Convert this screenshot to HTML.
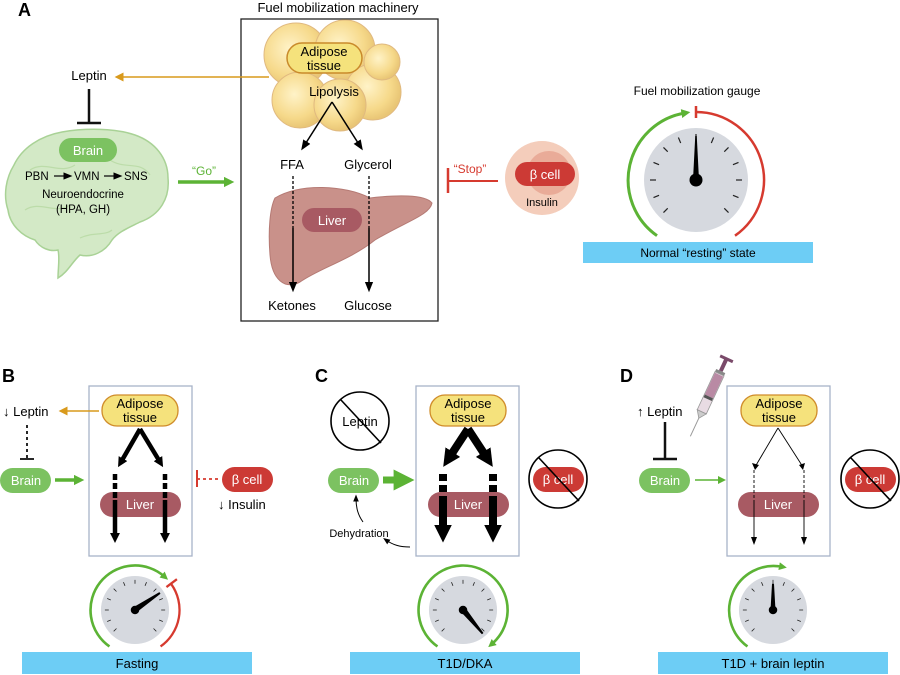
<!DOCTYPE html>
<html><head><meta charset="utf-8"><style>
html,body{margin:0;padding:0;background:#fff}
svg{display:block;font-family:"Liberation Sans",sans-serif}
</style></head><body>
<svg width="900" height="675" viewBox="0 0 900 675" xmlns="http://www.w3.org/2000/svg">
<defs>
<marker id="ahs" viewBox="0 0 10 10" refX="5" refY="5" markerWidth="7" markerHeight="7" orient="auto"><path d="M0,1 L10,5 L0,9 Z" fill="#000"/></marker>
<marker id="ahb" viewBox="0 0 10 10" refX="4" refY="5" markerWidth="2.2" markerHeight="2.2" orient="auto"><path d="M0,0 L10,5 L0,10 Z" fill="#000"/></marker>
<marker id="ahg" viewBox="0 0 10 10" refX="4" refY="5" markerWidth="3" markerHeight="3" orient="auto"><path d="M0,0 L10,5 L0,10 Z" fill="#5cb335"/></marker>
<marker id="aho" viewBox="0 0 10 10" refX="4" refY="5" markerWidth="6" markerHeight="6" orient="auto"><path d="M0,0 L10,5 L0,10 Z" fill="#d99a1c"/></marker>
<radialGradient id="fat" cx="0.4" cy="0.4" r="0.6"><stop offset="0" stop-color="#fff3c8"/><stop offset="0.7" stop-color="#f6d98a"/><stop offset="1" stop-color="#e9c676"/></radialGradient>
<g id="ticks" stroke="#222" stroke-width="1.2">
<line x1="0" y1="-46" x2="0" y2="-40" transform="rotate(-135)"/><line x1="0" y1="-46" x2="0" y2="-40" transform="rotate(-112.5)"/><line x1="0" y1="-46" x2="0" y2="-40" transform="rotate(-90)"/><line x1="0" y1="-46" x2="0" y2="-40" transform="rotate(-67.5)"/><line x1="0" y1="-46" x2="0" y2="-40" transform="rotate(-45)"/><line x1="0" y1="-46" x2="0" y2="-40" transform="rotate(-22.5)"/><line x1="0" y1="-46" x2="0" y2="-40"/><line x1="0" y1="-46" x2="0" y2="-40" transform="rotate(22.5)"/><line x1="0" y1="-46" x2="0" y2="-40" transform="rotate(45)"/><line x1="0" y1="-46" x2="0" y2="-40" transform="rotate(67.5)"/><line x1="0" y1="-46" x2="0" y2="-40" transform="rotate(90)"/><line x1="0" y1="-46" x2="0" y2="-40" transform="rotate(112.5)"/><line x1="0" y1="-46" x2="0" y2="-40" transform="rotate(135)"/>
</g>
<g id="dial"><circle r="52" fill="#d6d9df"/><use href="#ticks"/><circle r="6.5" fill="#000"/></g>
</defs>

<text x="18" y="16" font-size="18" font-weight="bold">A</text>
<text x="338" y="12" font-size="13" text-anchor="middle">Fuel mobilization machinery</text>
<rect x="241" y="19" width="197" height="302" fill="none" stroke="#222" stroke-width="1.3"/>
<g stroke="#e0b980" stroke-width="1">
<circle cx="296" cy="55" r="32" fill="url(#fat)"/>
<circle cx="345" cy="50" r="30" fill="url(#fat)"/>
<circle cx="373" cy="92" r="28" fill="url(#fat)"/>
<circle cx="300" cy="100" r="28" fill="url(#fat)"/>
<circle cx="340" cy="105" r="26" fill="url(#fat)"/>
<circle cx="382" cy="62" r="18" fill="url(#fat)"/>
</g>
<rect x="287" y="43" width="75" height="30" rx="15" fill="#f5e27c" stroke="#c98a2b" stroke-width="1.5"/>
<text x="324" y="56" font-size="13" text-anchor="middle">Adipose</text>
<text x="324" y="70" font-size="13" text-anchor="middle">tissue</text>
<text x="334" y="96" font-size="13" text-anchor="middle">Lipolysis</text>
<line x1="332" y1="102" x2="304" y2="146" stroke="#000" stroke-width="1.5" marker-end="url(#ahs)"/>
<line x1="332" y1="102" x2="360" y2="146" stroke="#000" stroke-width="1.5" marker-end="url(#ahs)"/>
<text x="292" y="169" font-size="13" text-anchor="middle">FFA</text>
<text x="368" y="169" font-size="13" text-anchor="middle">Glycerol</text>
<path d="M275,198 C300,183 345,185 370,198 C395,195 425,194 432,203 C430,215 405,222 375,240 C350,260 320,268 300,282 C285,290 272,280 270,255 C268,230 270,208 275,198 Z" fill="#c9918a" stroke="#b57a74" stroke-width="1"/>
<rect x="302" y="208" width="60" height="24" rx="12" fill="#a85a63"/>
<text x="332" y="225" font-size="13" fill="#fff" text-anchor="middle">Liver</text>
<line x1="293" y1="176" x2="293" y2="228" stroke="#000" stroke-width="1.3" stroke-dasharray="3,2"/>
<line x1="293" y1="228" x2="293" y2="287" stroke="#000" stroke-width="1.5" marker-end="url(#ahs)"/>
<line x1="369" y1="176" x2="369" y2="228" stroke="#000" stroke-width="1.3" stroke-dasharray="3,2"/>
<line x1="369" y1="228" x2="369" y2="287" stroke="#000" stroke-width="1.5" marker-end="url(#ahs)"/>
<text x="292" y="310" font-size="13" text-anchor="middle">Ketones</text>
<text x="368" y="310" font-size="13" text-anchor="middle">Glucose</text>
<text x="89" y="80" font-size="13" text-anchor="middle">Leptin</text>
<line x1="269" y1="77" x2="120" y2="77" stroke="#d99a1c" stroke-width="1.5" marker-end="url(#aho)"/>
<line x1="89" y1="89" x2="89" y2="123" stroke="#111" stroke-width="2.5"/>
<line x1="77" y1="123" x2="101" y2="123" stroke="#111" stroke-width="2.5"/>
<!-- brain -->
<path d="M58,278 C58,268 60,258 58,250 C50,252 40,248 35,240 C22,236 10,225 8,210 C3,195 6,178 14,165 C22,148 40,136 62,132 C85,128 115,128 135,135 C155,142 168,158 168,178 C170,198 160,215 140,222 C128,228 118,232 112,240 C105,252 92,258 80,255 C72,262 68,272 58,278 Z" fill="#d3e9c6" stroke="#a9d296" stroke-width="1.5"/>
<path d="M30,170 C45,160 60,175 75,165 M110,160 C125,170 140,160 150,175 M25,210 C40,200 55,215 70,205 M80,238 C92,232 105,236 112,230" fill="none" stroke="#bcdca9" stroke-width="1.2"/>
<rect x="59" y="138" width="58" height="24" rx="12" fill="#7cc261"/>
<text x="88" y="155" font-size="13" fill="#fff" text-anchor="middle">Brain</text>
<text x="25" y="180" font-size="11.5">PBN</text>
<line x1="54" y1="176" x2="68" y2="176" stroke="#111" stroke-width="1.3" marker-end="url(#ahs)"/>
<text x="74" y="180" font-size="11.5">VMN</text>
<line x1="104" y1="176" x2="118" y2="176" stroke="#111" stroke-width="1.3" marker-end="url(#ahs)"/>
<text x="124" y="180" font-size="11.5">SNS</text>
<text x="83" y="198" font-size="11.5" text-anchor="middle">Neuroendocrine</text>
<text x="83" y="213" font-size="11.5" text-anchor="middle">(HPA, GH)</text>
<text x="204" y="175" font-size="12" fill="#5cb335" text-anchor="middle">“Go”</text>
<line x1="178" y1="182" x2="228" y2="182" stroke="#5cb335" stroke-width="3.5" marker-end="url(#ahg)"/>
<text x="470" y="173" font-size="12" fill="#d63a2f" text-anchor="middle">“Stop”</text>
<line x1="448" y1="168" x2="448" y2="193" stroke="#d63a2f" stroke-width="2.5"/>
<line x1="448" y1="181" x2="498" y2="181" stroke="#d63a2f" stroke-width="2"/>
<circle cx="542" cy="178" r="37" fill="#f4cdbb"/>
<circle cx="549" cy="173" r="22" fill="#e9ab98"/>
<rect x="515" y="162" width="60" height="24" rx="12" fill="#cc3a35"/>
<text x="545" y="179" font-size="13" fill="#fff" text-anchor="middle">β cell</text>
<text x="542" y="206" font-size="11" text-anchor="middle">Insulin</text>
<text x="697" y="95" font-size="12" text-anchor="middle">Fuel mobilization gauge</text>
<g transform="translate(696,180)">
<use href="#dial"/>
<path d="M0,0 L-2,-5 L0,-44 L2,-5 Z" fill="#000" stroke="#000" stroke-width="1.5"/>
<path d="M-39,55.7 A68,68 0 0 1 -11,-67" fill="none" stroke="#5cb335" stroke-width="3" marker-end="url(#ahg)"/>
<path d="M0,-68 A68,68 0 0 1 39,55.7" fill="none" stroke="#d63a2f" stroke-width="2.5"/>
<line x1="0" y1="-74" x2="0" y2="-62" stroke="#d63a2f" stroke-width="2.5"/>
</g>
<rect x="583" y="242" width="230" height="21" fill="#6dcdf5"/>
<text x="698" y="257" font-size="12" text-anchor="middle">Normal “resting” state</text>

<text x="2" y="382" font-size="18" font-weight="bold">B</text>
<rect x="89" y="386" width="103" height="170" fill="none" stroke="#a8b3c8" stroke-width="1.3"/>
<rect x="102" y="395" width="76" height="31" rx="15" fill="#f5e27c" stroke="#d08c2a" stroke-width="1.3"/>
<text x="140" y="408" font-size="13" text-anchor="middle">Adipose</text>
<text x="140" y="422" font-size="13" text-anchor="middle">tissue</text>
<text x="3" y="416" font-size="13">↓ Leptin</text>
<line x1="99" y1="411" x2="64" y2="411" stroke="#d99a1c" stroke-width="1.5" marker-end="url(#aho)"/>
<line x1="27" y1="425" x2="27" y2="458" stroke="#111" stroke-width="1.8" stroke-dasharray="3,3"/>
<line x1="20" y1="459" x2="34" y2="459" stroke="#111" stroke-width="1.8"/>
<rect x="0" y="468" width="51" height="25" rx="12.5" fill="#7cc261"/>
<text x="26" y="485" font-size="13" fill="#fff" text-anchor="middle">Brain</text>
<line x1="55" y1="480" x2="78" y2="480" stroke="#5cb335" stroke-width="3.5" marker-end="url(#ahg)"/>
<rect x="100" y="492" width="81" height="25" rx="12.5" fill="#a85a63"/>
<text x="140" y="509" font-size="13" fill="#fff" text-anchor="middle">Liver</text>
<g stroke="#000" stroke-width="4.5" fill="none">
<line x1="140" y1="429" x2="121" y2="462" marker-end="url(#ahb)"/>
<line x1="140" y1="429" x2="160" y2="462" marker-end="url(#ahb)"/>
<line x1="115" y1="474" x2="115" y2="500" stroke-dasharray="6,3"/>
<line x1="115" y1="500" x2="115" y2="537" marker-end="url(#ahb)"/>
<line x1="165" y1="474" x2="165" y2="500" stroke-dasharray="6,3"/>
<line x1="165" y1="500" x2="165" y2="537" marker-end="url(#ahb)"/>
</g>
<line x1="197" y1="470" x2="197" y2="487" stroke="#d63a2f" stroke-width="2"/>
<line x1="197" y1="479" x2="218" y2="479" stroke="#d63a2f" stroke-width="1.8" stroke-dasharray="3,3"/>
<rect x="222" y="467" width="51" height="25" rx="12.5" fill="#cc3a35"/>
<text x="247" y="484" font-size="13" fill="#fff" text-anchor="middle">β cell</text>
<text x="218" y="509" font-size="13">↓ Insulin</text>
<g transform="translate(135,610) scale(0.655)">
<use href="#dial"/>
<path d="M0,0 L-1.5,-3 L38,-26 L2,2 Z" fill="#000" stroke="#000" stroke-width="3"/>
<path d="M-39,55.7 A68,68 0 1 1 45,-51" fill="none" stroke="#5cb335" stroke-width="4" marker-end="url(#ahg)"/>
<path d="M55.7,-39 A68,68 0 0 1 39,55.7" fill="none" stroke="#d63a2f" stroke-width="3.5"/>
<line x1="48" y1="-35" x2="64" y2="-47" stroke="#d63a2f" stroke-width="3.5"/>
</g>
<rect x="22" y="652" width="230" height="22" fill="#6dcdf5"/>
<text x="137" y="668" font-size="13" text-anchor="middle">Fasting</text>

<text x="315" y="382" font-size="18" font-weight="bold">C</text>
<circle cx="360" cy="421" r="29" fill="#fff" stroke="#000" stroke-width="1.6"/>
<text x="360" y="426" font-size="13" text-anchor="middle">Leptin</text>
<line x1="341" y1="400" x2="381" y2="443" stroke="#000" stroke-width="1.6"/>
<rect x="328" y="468" width="51" height="25" rx="12.5" fill="#7cc261"/>
<text x="354" y="485" font-size="13" fill="#fff" text-anchor="middle">Brain</text>
<line x1="383" y1="480" x2="402" y2="480" stroke="#5cb335" stroke-width="7" marker-end="url(#ahg)"/>
<text x="359" y="537" font-size="11" text-anchor="middle">Dehydration</text>
<path d="M363,522 C358,515 356,508 356,498" fill="none" stroke="#000" stroke-width="1" marker-end="url(#ahs)"/>
<path d="M410,547 C400,547 393,545 386,540" fill="none" stroke="#000" stroke-width="1" marker-end="url(#ahs)"/>
<rect x="416" y="386" width="103" height="170" fill="none" stroke="#a8b3c8" stroke-width="1.3"/>
<rect x="430" y="395" width="76" height="31" rx="15" fill="#f5e27c" stroke="#d08c2a" stroke-width="1.3"/>
<text x="468" y="408" font-size="13" text-anchor="middle">Adipose</text>
<text x="468" y="422" font-size="13" text-anchor="middle">tissue</text>
<rect x="428" y="492" width="81" height="25" rx="12.5" fill="#a85a63"/>
<text x="468" y="509" font-size="13" fill="#fff" text-anchor="middle">Liver</text>
<g stroke="#000" stroke-width="8" fill="none">
<line x1="468" y1="429" x2="449" y2="458" marker-end="url(#ahb)"/>
<line x1="468" y1="429" x2="487" y2="458" marker-end="url(#ahb)"/>
<line x1="443" y1="474" x2="443" y2="500" stroke-dasharray="7,4"/>
<line x1="443" y1="500" x2="443" y2="532" marker-end="url(#ahb)"/>
<line x1="493" y1="474" x2="493" y2="500" stroke-dasharray="7,4"/>
<line x1="493" y1="500" x2="493" y2="532" marker-end="url(#ahb)"/>
</g>
<rect x="533" y="467" width="51" height="25" rx="12.5" fill="#cc3a35"/>
<text x="558" y="484" font-size="13" fill="#fff" text-anchor="middle">β cell</text>
<circle cx="558" cy="479" r="29" fill="none" stroke="#000" stroke-width="1.6"/>
<line x1="539" y1="458" x2="579" y2="501" stroke="#000" stroke-width="1.6"/>
<g transform="translate(463,610) scale(0.655)">
<use href="#dial"/>
<path d="M0,0 L2,-3 L30,36 L-2,2 Z" fill="#000" stroke="#000" stroke-width="3"/>
<path d="M-39,55.7 A68,68 0 1 1 44,52" fill="none" stroke="#5cb335" stroke-width="4" marker-end="url(#ahg)"/>
</g>
<rect x="350" y="652" width="230" height="22" fill="#6dcdf5"/>
<text x="465" y="668" font-size="13" text-anchor="middle">T1D/DKA</text>

<text x="620" y="382" font-size="18" font-weight="bold">D</text>
<text x="637" y="416" font-size="13">↑ Leptin</text>
<line x1="665" y1="422" x2="665" y2="459" stroke="#111" stroke-width="2.5"/>
<line x1="653" y1="459" x2="677" y2="459" stroke="#111" stroke-width="2.5"/>
<g transform="translate(725,362) rotate(25)">
<rect x="-2" y="-4" width="4" height="14" fill="#7a4a6a"/>
<rect x="-7" y="-5" width="14" height="3" fill="#7a4a6a"/>
<rect x="-5" y="10" width="10" height="3" fill="#888"/>
<rect x="-5" y="13" width="10" height="42" fill="#e8dbe3" stroke="#999" stroke-width="0.8"/>
<rect x="-4.5" y="14" width="9" height="24" fill="#b98aa4"/>
<rect x="-4.5" y="38" width="9" height="3" fill="#555"/>
<path d="M-5,55 L0,62 L5,55 Z" fill="#ccc" stroke="#999" stroke-width="0.8"/>
<line x1="0" y1="62" x2="0" y2="82" stroke="#999" stroke-width="1"/>
</g>
<rect x="639" y="468" width="51" height="25" rx="12.5" fill="#7cc261"/>
<text x="665" y="485" font-size="13" fill="#fff" text-anchor="middle">Brain</text>
<line x1="695" y1="480" x2="720" y2="480" stroke="#5cb335" stroke-width="1.5"/>
<path d="M718,476 L726,480 L718,484 Z" fill="#5cb335"/>
<rect x="727" y="386" width="103" height="170" fill="none" stroke="#a8b3c8" stroke-width="1.3"/>
<rect x="741" y="395" width="76" height="31" rx="15" fill="#f5e27c" stroke="#d08c2a" stroke-width="1.3"/>
<text x="779" y="408" font-size="13" text-anchor="middle">Adipose</text>
<text x="779" y="422" font-size="13" text-anchor="middle">tissue</text>
<rect x="738" y="492" width="81" height="25" rx="12.5" fill="#a85a63"/>
<text x="778" y="509" font-size="13" fill="#fff" text-anchor="middle">Liver</text>
<g stroke="#000" stroke-width="0.9" fill="none">
<line x1="778" y1="428" x2="755" y2="467"/>
<line x1="778" y1="428" x2="803" y2="467"/>
<line x1="754" y1="470" x2="754" y2="500" stroke-dasharray="3,2"/>
<line x1="754" y1="500" x2="754" y2="542"/>
<line x1="804" y1="470" x2="804" y2="500" stroke-dasharray="3,2"/>
<line x1="804" y1="500" x2="804" y2="542"/>
</g>
<path d="M751,537 L754,545 L757,537 Z M801,537 L804,545 L807,537 Z M752,463 L755,470 L759,465 Z M799,465 L803,470 L805,463 Z" fill="#000"/>
<rect x="845" y="467" width="51" height="25" rx="12.5" fill="#cc3a35"/>
<text x="870" y="484" font-size="13" fill="#fff" text-anchor="middle">β cell</text>
<circle cx="870" cy="479" r="29" fill="none" stroke="#000" stroke-width="1.6"/>
<line x1="851" y1="458" x2="891" y2="501" stroke="#000" stroke-width="1.6"/>
<g transform="translate(773,610) scale(0.655)">
<use href="#dial"/>
<path d="M0,0 L-2,-5 L0,-40 L2,-5 Z" fill="#000" stroke="#000" stroke-width="3"/>
<path d="M-39,55.7 A68,68 0 0 1 14,-66" fill="none" stroke="#5cb335" stroke-width="4" marker-end="url(#ahg)"/>
</g>
<rect x="658" y="652" width="230" height="22" fill="#6dcdf5"/>
<text x="773" y="668" font-size="13" text-anchor="middle">T1D + brain leptin</text>
</svg>
</body></html>
